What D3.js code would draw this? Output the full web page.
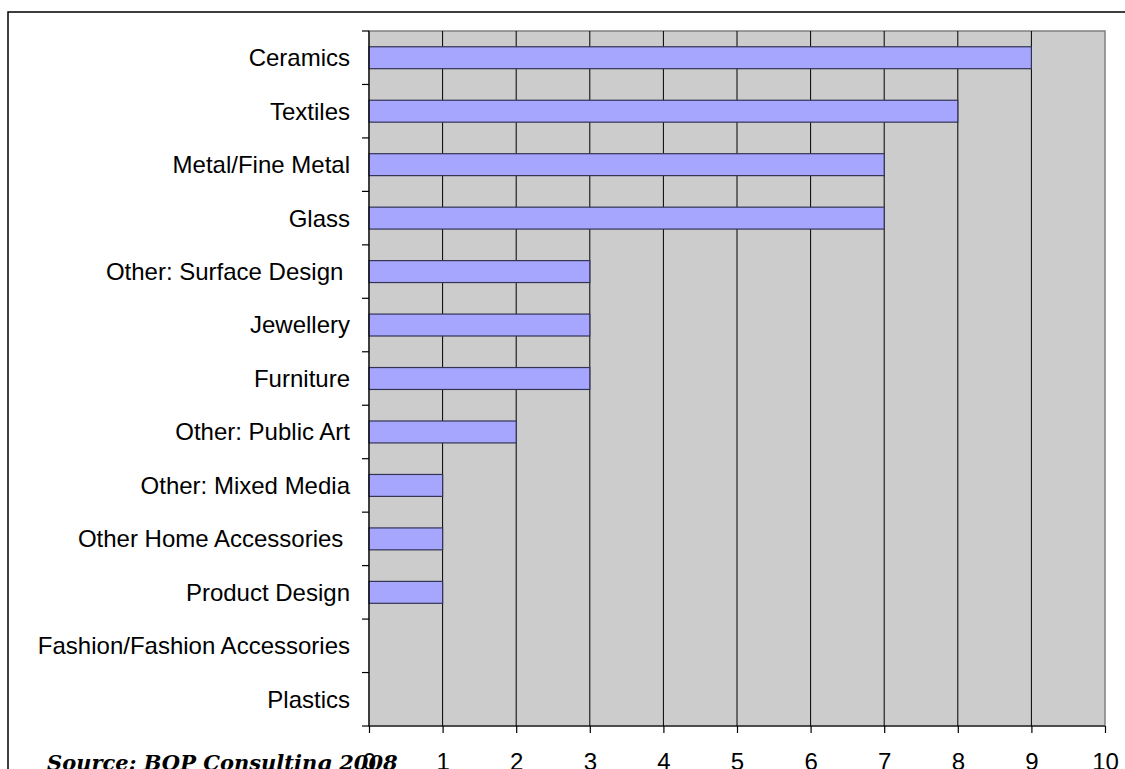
<!DOCTYPE html>
<html><head><meta charset="utf-8">
<script src="https://cdn.jsdelivr.net/npm/d3@7"></script>
<style>html,body{margin:0;padding:0;background:#fff;overflow:hidden}</style>
</head><body>
<svg id="c" width="1125" height="769"></svg>
<script>
const categories = ["Ceramics","Textiles","Metal/Fine Metal","Glass","Other: Surface Design ","Jewellery","Furniture","Other: Public Art","Other: Mixed Media","Other Home Accessories ","Product Design","Fashion/Fashion Accessories","Plastics"];
const values = [9,8,7,7,3,3,3,2,1,1,1,0,0];
const xTicks = [0,1,2,3,4,5,6,7,8,9,10];
const sourceText = "Source: BOP Consulting 2008";

const svg = d3.select("#c");
const L = 369, R = 1105, T = 31, B = 726;

svg.append("rect").attr("x",8).attr("y",12).attr("width",1200).attr("height",900)
  .attr("fill","#fff").attr("stroke","#000").attr("stroke-width",1.5);

const x = d3.scaleLinear().domain([0,10]).range([L,R]);
const y = d3.scaleBand().domain(categories).range([T,B]).paddingInner(0.59).paddingOuter(0.295);
const yb = d3.scaleBand().domain(categories).range([T,B]);

svg.append("rect").attr("x",L).attr("y",T).attr("width",R-L).attr("height",B-T)
  .attr("fill","#cccccc").attr("stroke","#808080").attr("stroke-width",1.5);

svg.append("g").selectAll("line").data(xTicks.slice(1,-1)).join("line")
  .attr("x1",d=>x(d)).attr("x2",d=>x(d)).attr("y1",T).attr("y2",B)
  .attr("stroke","#000").attr("stroke-width",1);

svg.append("g").selectAll("rect").data(categories.map((c,i)=>({c,v:values[i]})).filter(d=>d.v>0)).join("rect")
  .attr("x",x(0)).attr("y",d=>y(d.c)).attr("width",d=>x(d.v)-x(0)).attr("height",y.bandwidth())
  .attr("fill","#a6a6ff").attr("stroke","#333355").attr("stroke-width",1.2);

// y axis line and ticks at band edges
const yEdges = categories.map(c=>yb(c)).concat([B]);
svg.append("line").attr("x1",L).attr("x2",L).attr("y1",T).attr("y2",B).attr("stroke","#000").attr("stroke-width",1.2);
svg.append("g").selectAll("line").data(yEdges).join("line")
  .attr("x1",L-7).attr("x2",L).attr("y1",d=>d).attr("y2",d=>d).attr("stroke","#000").attr("stroke-width",1.2);
svg.append("g").selectAll("text").data(categories).join("text")
  .attr("x",350).attr("y",d=>yb(d)+yb.bandwidth()/2).attr("dy","0.35em")
  .attr("text-anchor","end").attr("font-family","'Liberation Sans', Arial, sans-serif").attr("font-size",24)
  .attr("fill","#000").style("white-space","pre").text(d=>d);

// x axis
const xa = d3.axisBottom(x).tickValues(xTicks).tickSize(7).tickFormat(d3.format("d"));
const gx = svg.append("g").attr("transform",`translate(0,${B})`).call(xa);
gx.select(".domain").attr("stroke","#000").attr("stroke-width",1.2).attr("d",`M${L},0H${R}`);
gx.selectAll(".tick line").attr("stroke","#000").attr("stroke-width",1.2);
gx.selectAll(".tick text").attr("y",44).attr("dy",0).attr("font-family","'Liberation Sans', Arial, sans-serif").attr("font-size",24).attr("fill","#000");

svg.append("text").attr("x",47).attr("y",770).attr("font-family","'DejaVu Serif', serif")
  .attr("font-style","italic").attr("font-weight","bold").attr("font-size",21).attr("fill","#000").text(sourceText);
</script>
</body></html>
